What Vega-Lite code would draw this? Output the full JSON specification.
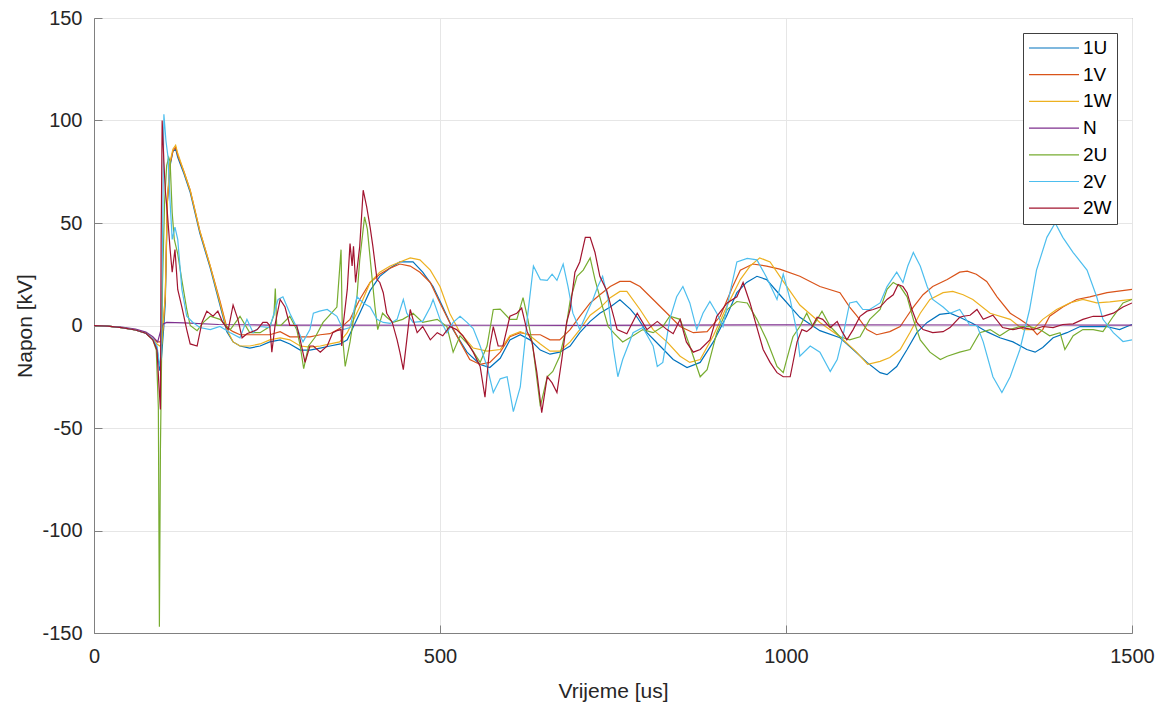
{
"$schema": "https://vega.github.io/schema/vega-lite/v6.json",
"width": 1038, "height": 615,
"autosize": {"type": "none"},
"padding": {"left": 94, "top": 18, "right": 34, "bottom": 74},
"background": "white",
"config": {"view": {"stroke": "#808080", "strokeWidth": 1}, "font": "Liberation Sans"},
"data": {"values": [
{"s":"1U","t":0,"v":0},{"s":"1U","t":20,"v":-0.3},{"s":"1U","t":40,"v":-1},{"s":"1U","t":60,"v":-2.2},{"s":"1U","t":75,"v":-3.8},{"s":"1U","t":85,"v":-6.5},{"s":"1U","t":91,"v":-11},{"s":"1U","t":95,"v":-22},{"s":"1U","t":97,"v":-18},{"s":"1U","t":101,"v":0},{"s":"1U","t":103,"v":11},{"s":"1U","t":106,"v":60},{"s":"1U","t":110,"v":78},{"s":"1U","t":114,"v":85},{"s":"1U","t":118,"v":86},{"s":"1U","t":121,"v":82},{"s":"1U","t":130,"v":74},{"s":"1U","t":139,"v":65},{"s":"1U","t":153,"v":45},{"s":"1U","t":168,"v":28},{"s":"1U","t":182,"v":10},{"s":"1U","t":192,"v":-3},{"s":"1U","t":201,"v":-8},{"s":"1U","t":211,"v":-10},{"s":"1U","t":225,"v":-11},{"s":"1U","t":240,"v":-10},{"s":"1U","t":254,"v":-8},{"s":"1U","t":269,"v":-7},{"s":"1U","t":283,"v":-9},{"s":"1U","t":298,"v":-12},{"s":"1U","t":312,"v":-12},{"s":"1U","t":327,"v":-11},{"s":"1U","t":341,"v":-10},{"s":"1U","t":356,"v":-9},{"s":"1U","t":366,"v":-7},{"s":"1U","t":384,"v":6},{"s":"1U","t":399,"v":17},{"s":"1U","t":413,"v":24},{"s":"1U","t":428,"v":28},{"s":"1U","t":442,"v":31},{"s":"1U","t":461,"v":31},{"s":"1U","t":475,"v":26},{"s":"1U","t":490,"v":19},{"s":"1U","t":504,"v":9},{"s":"1U","t":519,"v":-2},{"s":"1U","t":539,"v":-13},{"s":"1U","t":558,"v":-19},{"s":"1U","t":572,"v":-20.5},{"s":"1U","t":587,"v":-16},{"s":"1U","t":601,"v":-7},{"s":"1U","t":616,"v":-4.5},{"s":"1U","t":630,"v":-7},{"s":"1U","t":645,"v":-12},{"s":"1U","t":659,"v":-14},{"s":"1U","t":673,"v":-13},{"s":"1U","t":688,"v":-10},{"s":"1U","t":702,"v":-3.5},{"s":"1U","t":717,"v":2},{"s":"1U","t":731,"v":6},{"s":"1U","t":746,"v":9},{"s":"1U","t":760,"v":12.5},{"s":"1U","t":775,"v":8},{"s":"1U","t":785,"v":4},{"s":"1U","t":799,"v":-3.5},{"s":"1U","t":818,"v":-10},{"s":"1U","t":837,"v":-16.6},{"s":"1U","t":857,"v":-20.5},{"s":"1U","t":876,"v":-18},{"s":"1U","t":895,"v":-8},{"s":"1U","t":914,"v":4.5},{"s":"1U","t":929,"v":16},{"s":"1U","t":943,"v":21},{"s":"1U","t":958,"v":24},{"s":"1U","t":972,"v":22.4},{"s":"1U","t":991,"v":15},{"s":"1U","t":1020,"v":4},{"s":"1U","t":1049,"v":-2.5},{"s":"1U","t":1078,"v":-6},{"s":"1U","t":1097,"v":-11.7},{"s":"1U","t":1117,"v":-18},{"s":"1U","t":1136,"v":-23},{"s":"1U","t":1146,"v":-24},{"s":"1U","t":1160,"v":-20},{"s":"1U","t":1175,"v":-11.7},{"s":"1U","t":1189,"v":-3.5},{"s":"1U","t":1204,"v":1.5},{"s":"1U","t":1222,"v":5.4},{"s":"1U","t":1237,"v":6},{"s":"1U","t":1251,"v":4},{"s":"1U","t":1270,"v":1},{"s":"1U","t":1290,"v":-3},{"s":"1U","t":1309,"v":-6},{"s":"1U","t":1328,"v":-8},{"s":"1U","t":1348,"v":-11.7},{"s":"1U","t":1360,"v":-13},{"s":"1U","t":1371,"v":-10.7},{"s":"1U","t":1386,"v":-6},{"s":"1U","t":1406,"v":-3.5},{"s":"1U","t":1425,"v":-0.5},{"s":"1U","t":1444,"v":-0.5},{"s":"1U","t":1463,"v":-0.5},{"s":"1U","t":1482,"v":-2},{"s":"1U","t":1500,"v":0.5},
{"s":"1V","t":0,"v":0},{"s":"1V","t":20,"v":-0.3},{"s":"1V","t":40,"v":-1},{"s":"1V","t":60,"v":-2.2},{"s":"1V","t":75,"v":-3.8},{"s":"1V","t":85,"v":-6.5},{"s":"1V","t":91,"v":-8},{"s":"1V","t":95,"v":-8},{"s":"1V","t":98,"v":-7},{"s":"1V","t":101,"v":5},{"s":"1V","t":103,"v":14},{"s":"1V","t":106,"v":60},{"s":"1V","t":110,"v":79},{"s":"1V","t":114,"v":85},{"s":"1V","t":118,"v":87},{"s":"1V","t":121,"v":83},{"s":"1V","t":130,"v":75},{"s":"1V","t":139,"v":66},{"s":"1V","t":153,"v":46},{"s":"1V","t":168,"v":29},{"s":"1V","t":182,"v":12},{"s":"1V","t":192,"v":-1},{"s":"1V","t":201,"v":-3},{"s":"1V","t":211,"v":-4.5},{"s":"1V","t":225,"v":-4.5},{"s":"1V","t":254,"v":-4.5},{"s":"1V","t":269,"v":-3},{"s":"1V","t":283,"v":-5.5},{"s":"1V","t":312,"v":-5.5},{"s":"1V","t":327,"v":-4.5},{"s":"1V","t":341,"v":-4},{"s":"1V","t":355,"v":-1.5},{"s":"1V","t":370,"v":3},{"s":"1V","t":384,"v":12.7},{"s":"1V","t":399,"v":21},{"s":"1V","t":413,"v":25},{"s":"1V","t":428,"v":28},{"s":"1V","t":442,"v":30},{"s":"1V","t":457,"v":29},{"s":"1V","t":471,"v":26},{"s":"1V","t":486,"v":21},{"s":"1V","t":500,"v":11},{"s":"1V","t":514,"v":1.5},{"s":"1V","t":529,"v":-8},{"s":"1V","t":543,"v":-16.6},{"s":"1V","t":558,"v":-19},{"s":"1V","t":572,"v":-18},{"s":"1V","t":587,"v":-13},{"s":"1V","t":601,"v":-5.5},{"s":"1V","t":616,"v":-3.5},{"s":"1V","t":630,"v":-4.5},{"s":"1V","t":645,"v":-4.5},{"s":"1V","t":659,"v":-7},{"s":"1V","t":673,"v":-7},{"s":"1V","t":688,"v":-2},{"s":"1V","t":702,"v":4.5},{"s":"1V","t":717,"v":11},{"s":"1V","t":731,"v":15},{"s":"1V","t":746,"v":19},{"s":"1V","t":760,"v":21.5},{"s":"1V","t":775,"v":21.5},{"s":"1V","t":789,"v":19},{"s":"1V","t":808,"v":12.7},{"s":"1V","t":828,"v":6},{"s":"1V","t":847,"v":-0.5},{"s":"1V","t":866,"v":-3.5},{"s":"1V","t":886,"v":-3},{"s":"1V","t":905,"v":4.5},{"s":"1V","t":923,"v":19},{"s":"1V","t":934,"v":27},{"s":"1V","t":952,"v":30},{"s":"1V","t":972,"v":29},{"s":"1V","t":991,"v":27.5},{"s":"1V","t":1020,"v":24},{"s":"1V","t":1049,"v":19},{"s":"1V","t":1078,"v":16},{"s":"1V","t":1092,"v":9},{"s":"1V","t":1103,"v":4.5},{"s":"1V","t":1117,"v":-2},{"s":"1V","t":1131,"v":-4.5},{"s":"1V","t":1150,"v":-3},{"s":"1V","t":1165,"v":-0.5},{"s":"1V","t":1175,"v":4.5},{"s":"1V","t":1184,"v":9},{"s":"1V","t":1198,"v":15},{"s":"1V","t":1212,"v":19},{"s":"1V","t":1233,"v":22.4},{"s":"1V","t":1251,"v":26},{"s":"1V","t":1262,"v":26.5},{"s":"1V","t":1275,"v":25},{"s":"1V","t":1290,"v":21.5},{"s":"1V","t":1305,"v":14},{"s":"1V","t":1324,"v":6},{"s":"1V","t":1338,"v":3},{"s":"1V","t":1353,"v":-0.5},{"s":"1V","t":1363,"v":-4.5},{"s":"1V","t":1371,"v":-2},{"s":"1V","t":1381,"v":4.5},{"s":"1V","t":1400,"v":9},{"s":"1V","t":1420,"v":12.7},{"s":"1V","t":1439,"v":14},{"s":"1V","t":1464,"v":16},{"s":"1V","t":1500,"v":17.6},
{"s":"1W","t":0,"v":0},{"s":"1W","t":20,"v":-0.3},{"s":"1W","t":40,"v":-1},{"s":"1W","t":60,"v":-2.2},{"s":"1W","t":75,"v":-3.8},{"s":"1W","t":85,"v":-6.5},{"s":"1W","t":91,"v":-9},{"s":"1W","t":95,"v":-10},{"s":"1W","t":98,"v":-9},{"s":"1W","t":101,"v":5},{"s":"1W","t":103,"v":15},{"s":"1W","t":106,"v":62},{"s":"1W","t":110,"v":80},{"s":"1W","t":114,"v":86},{"s":"1W","t":118,"v":88},{"s":"1W","t":121,"v":84},{"s":"1W","t":130,"v":75},{"s":"1W","t":139,"v":66},{"s":"1W","t":153,"v":46},{"s":"1W","t":168,"v":29},{"s":"1W","t":182,"v":11},{"s":"1W","t":192,"v":-2},{"s":"1W","t":201,"v":-8},{"s":"1W","t":211,"v":-10},{"s":"1W","t":225,"v":-10},{"s":"1W","t":240,"v":-9},{"s":"1W","t":254,"v":-7},{"s":"1W","t":269,"v":-6},{"s":"1W","t":283,"v":-7},{"s":"1W","t":298,"v":-10},{"s":"1W","t":312,"v":-10.5},{"s":"1W","t":327,"v":-10},{"s":"1W","t":341,"v":-9},{"s":"1W","t":355,"v":-8},{"s":"1W","t":366,"v":-3.5},{"s":"1W","t":384,"v":9},{"s":"1W","t":399,"v":21},{"s":"1W","t":413,"v":26},{"s":"1W","t":428,"v":29},{"s":"1W","t":442,"v":31},{"s":"1W","t":457,"v":33},{"s":"1W","t":471,"v":32},{"s":"1W","t":486,"v":27},{"s":"1W","t":500,"v":19},{"s":"1W","t":514,"v":6},{"s":"1W","t":529,"v":-3.5},{"s":"1W","t":548,"v":-11},{"s":"1W","t":568,"v":-12.5},{"s":"1W","t":587,"v":-11.7},{"s":"1W","t":601,"v":-5},{"s":"1W","t":616,"v":-3},{"s":"1W","t":630,"v":-5},{"s":"1W","t":645,"v":-9},{"s":"1W","t":659,"v":-12.5},{"s":"1W","t":673,"v":-12.5},{"s":"1W","t":688,"v":-8},{"s":"1W","t":702,"v":-2},{"s":"1W","t":717,"v":5},{"s":"1W","t":731,"v":8.5},{"s":"1W","t":746,"v":13.6},{"s":"1W","t":760,"v":16.6},{"s":"1W","t":770,"v":16.6},{"s":"1W","t":789,"v":7.8},{"s":"1W","t":808,"v":-2},{"s":"1W","t":828,"v":-8},{"s":"1W","t":847,"v":-15},{"s":"1W","t":861,"v":-18},{"s":"1W","t":876,"v":-16.6},{"s":"1W","t":895,"v":-5},{"s":"1W","t":914,"v":9},{"s":"1W","t":934,"v":22.4},{"s":"1W","t":948,"v":29},{"s":"1W","t":962,"v":33},{"s":"1W","t":977,"v":31},{"s":"1W","t":996,"v":21.5},{"s":"1W","t":1020,"v":10},{"s":"1W","t":1049,"v":1.5},{"s":"1W","t":1078,"v":-5.5},{"s":"1W","t":1102,"v":-13},{"s":"1W","t":1118,"v":-19},{"s":"1W","t":1136,"v":-17.5},{"s":"1W","t":1150,"v":-15.6},{"s":"1W","t":1165,"v":-11.7},{"s":"1W","t":1179,"v":-3.5},{"s":"1W","t":1194,"v":6},{"s":"1W","t":1208,"v":12.7},{"s":"1W","t":1227,"v":16},{"s":"1W","t":1241,"v":16.6},{"s":"1W","t":1256,"v":15},{"s":"1W","t":1270,"v":12.7},{"s":"1W","t":1295,"v":6},{"s":"1W","t":1324,"v":3},{"s":"1W","t":1343,"v":-2},{"s":"1W","t":1357,"v":-2},{"s":"1W","t":1371,"v":3},{"s":"1W","t":1391,"v":7.8},{"s":"1W","t":1410,"v":11},{"s":"1W","t":1429,"v":12.7},{"s":"1W","t":1449,"v":11},{"s":"1W","t":1468,"v":11.5},{"s":"1W","t":1500,"v":12.7},
{"s":"N","t":0,"v":0},{"s":"N","t":40,"v":-0.8},{"s":"N","t":60,"v":-1.8},{"s":"N","t":75,"v":-3.2},{"s":"N","t":85,"v":-5.5},{"s":"N","t":92,"v":-8},{"s":"N","t":96,"v":-3},{"s":"N","t":100,"v":0.8},{"s":"N","t":105,"v":1.5},{"s":"N","t":130,"v":1.3},{"s":"N","t":180,"v":0.5},{"s":"N","t":250,"v":0.2},{"s":"N","t":700,"v":0.1},{"s":"N","t":1000,"v":0.3},{"s":"N","t":1500,"v":0.2},
{"s":"2U","t":0,"v":0},{"s":"2U","t":20,"v":-0.3},{"s":"2U","t":40,"v":-1},{"s":"2U","t":60,"v":-2.2},{"s":"2U","t":75,"v":-3.8},{"s":"2U","t":85,"v":-7},{"s":"2U","t":90,"v":-12},{"s":"2U","t":93,"v":-40},{"s":"2U","t":94.5,"v":-147},{"s":"2U","t":96,"v":-60},{"s":"2U","t":99,"v":20},{"s":"2U","t":102,"v":60},{"s":"2U","t":105,"v":78},{"s":"2U","t":108,"v":82},{"s":"2U","t":110,"v":80},{"s":"2U","t":113,"v":55},{"s":"2U","t":116,"v":42},{"s":"2U","t":121,"v":35},{"s":"2U","t":127,"v":22},{"s":"2U","t":134,"v":8},{"s":"2U","t":139,"v":0},{"s":"2U","t":149,"v":-2.5},{"s":"2U","t":158,"v":1.5},{"s":"2U","t":168,"v":4.5},{"s":"2U","t":182,"v":3},{"s":"2U","t":197,"v":-2},{"s":"2U","t":211,"v":4.5},{"s":"2U","t":225,"v":-3.5},{"s":"2U","t":240,"v":-3.5},{"s":"2U","t":254,"v":-0.5},{"s":"2U","t":260,"v":5},{"s":"2U","t":262,"v":18},{"s":"2U","t":264,"v":0},{"s":"2U","t":270,"v":0},{"s":"2U","t":283,"v":4.5},{"s":"2U","t":293,"v":-2},{"s":"2U","t":298,"v":-10},{"s":"2U","t":303,"v":-21},{"s":"2U","t":310,"v":-10},{"s":"2U","t":320,"v":-5.5},{"s":"2U","t":331,"v":1.5},{"s":"2U","t":351,"v":9},{"s":"2U","t":357,"v":37},{"s":"2U","t":359,"v":-5},{"s":"2U","t":363,"v":-20},{"s":"2U","t":370,"v":-8},{"s":"2U","t":380,"v":14},{"s":"2U","t":384,"v":32},{"s":"2U","t":391,"v":53},{"s":"2U","t":395,"v":47},{"s":"2U","t":401,"v":26},{"s":"2U","t":406,"v":9},{"s":"2U","t":410,"v":-2},{"s":"2U","t":417,"v":6},{"s":"2U","t":423,"v":4},{"s":"2U","t":432,"v":1.5},{"s":"2U","t":446,"v":3},{"s":"2U","t":461,"v":6},{"s":"2U","t":475,"v":1.5},{"s":"2U","t":496,"v":3},{"s":"2U","t":510,"v":-0.5},{"s":"2U","t":519,"v":-13},{"s":"2U","t":529,"v":-5},{"s":"2U","t":543,"v":-10},{"s":"2U","t":558,"v":-18},{"s":"2U","t":568,"v":-10},{"s":"2U","t":577,"v":7.8},{"s":"2U","t":587,"v":8},{"s":"2U","t":601,"v":3},{"s":"2U","t":611,"v":3},{"s":"2U","t":620,"v":13.6},{"s":"2U","t":627,"v":3},{"s":"2U","t":634,"v":-10},{"s":"2U","t":645,"v":-39.5},{"s":"2U","t":655,"v":-25},{"s":"2U","t":663,"v":-22.4},{"s":"2U","t":673,"v":-15},{"s":"2U","t":681,"v":-3.5},{"s":"2U","t":688,"v":12},{"s":"2U","t":698,"v":24},{"s":"2U","t":707,"v":27},{"s":"2U","t":717,"v":33},{"s":"2U","t":724,"v":22.4},{"s":"2U","t":735,"v":9},{"s":"2U","t":743,"v":-0.5},{"s":"2U","t":752,"v":-4},{"s":"2U","t":764,"v":-8},{"s":"2U","t":779,"v":-5},{"s":"2U","t":793,"v":-2},{"s":"2U","t":808,"v":-3.5},{"s":"2U","t":822,"v":-0.5},{"s":"2U","t":832,"v":4.5},{"s":"2U","t":847,"v":3},{"s":"2U","t":861,"v":-10},{"s":"2U","t":876,"v":-25},{"s":"2U","t":886,"v":-21.5},{"s":"2U","t":900,"v":-3.5},{"s":"2U","t":915,"v":7.8},{"s":"2U","t":929,"v":11.7},{"s":"2U","t":944,"v":11},{"s":"2U","t":958,"v":3},{"s":"2U","t":972,"v":-7},{"s":"2U","t":987,"v":-20},{"s":"2U","t":996,"v":-23},{"s":"2U","t":1001,"v":-16.6},{"s":"2U","t":1010,"v":-5.5},{"s":"2U","t":1020,"v":-0.5},{"s":"2U","t":1030,"v":6},{"s":"2U","t":1039,"v":-0.5},{"s":"2U","t":1052,"v":7},{"s":"2U","t":1064,"v":-0.5},{"s":"2U","t":1078,"v":-5.5},{"s":"2U","t":1092,"v":-7},{"s":"2U","t":1107,"v":-5.5},{"s":"2U","t":1121,"v":3},{"s":"2U","t":1136,"v":7.8},{"s":"2U","t":1146,"v":17.6},{"s":"2U","t":1155,"v":21},{"s":"2U","t":1165,"v":19},{"s":"2U","t":1175,"v":14},{"s":"2U","t":1184,"v":3},{"s":"2U","t":1194,"v":-7},{"s":"2U","t":1208,"v":-13},{"s":"2U","t":1223,"v":-16.6},{"s":"2U","t":1233,"v":-15},{"s":"2U","t":1251,"v":-13},{"s":"2U","t":1266,"v":-11.7},{"s":"2U","t":1280,"v":-3.5},{"s":"2U","t":1295,"v":-2},{"s":"2U","t":1309,"v":-5},{"s":"2U","t":1323,"v":-2},{"s":"2U","t":1338,"v":-0.5},{"s":"2U","t":1352,"v":-0.5},{"s":"2U","t":1367,"v":-2},{"s":"2U","t":1381,"v":-5},{"s":"2U","t":1396,"v":-3.5},{"s":"2U","t":1403,"v":-11.7},{"s":"2U","t":1415,"v":-5},{"s":"2U","t":1429,"v":-2},{"s":"2U","t":1444,"v":-2},{"s":"2U","t":1458,"v":-3},{"s":"2U","t":1473,"v":4.5},{"s":"2U","t":1487,"v":11},{"s":"2U","t":1500,"v":12.7},
{"s":"2V","t":0,"v":0},{"s":"2V","t":20,"v":-0.3},{"s":"2V","t":40,"v":-1},{"s":"2V","t":60,"v":-2.2},{"s":"2V","t":75,"v":-3.8},{"s":"2V","t":85,"v":-6.5},{"s":"2V","t":91,"v":-10},{"s":"2V","t":95,"v":-20},{"s":"2V","t":97,"v":-15},{"s":"2V","t":99,"v":40},{"s":"2V","t":101,"v":103},{"s":"2V","t":104,"v":90},{"s":"2V","t":107,"v":82},{"s":"2V","t":110,"v":60},{"s":"2V","t":113,"v":42},{"s":"2V","t":117,"v":48},{"s":"2V","t":121,"v":42},{"s":"2V","t":127,"v":17.6},{"s":"2V","t":134,"v":4.5},{"s":"2V","t":143,"v":1.5},{"s":"2V","t":153,"v":-1},{"s":"2V","t":168,"v":-2},{"s":"2V","t":182,"v":-0.5},{"s":"2V","t":197,"v":-3.5},{"s":"2V","t":211,"v":-6},{"s":"2V","t":221,"v":3},{"s":"2V","t":230,"v":-3.5},{"s":"2V","t":240,"v":-0.5},{"s":"2V","t":254,"v":-1},{"s":"2V","t":266,"v":12.7},{"s":"2V","t":273,"v":14},{"s":"2V","t":283,"v":6},{"s":"2V","t":293,"v":-1},{"s":"2V","t":302,"v":-8},{"s":"2V","t":312,"v":-2},{"s":"2V","t":317,"v":6},{"s":"2V","t":326,"v":7},{"s":"2V","t":337,"v":7.8},{"s":"2V","t":351,"v":4.5},{"s":"2V","t":360,"v":-2},{"s":"2V","t":370,"v":-1},{"s":"2V","t":380,"v":14},{"s":"2V","t":389,"v":11},{"s":"2V","t":399,"v":9},{"s":"2V","t":409,"v":3},{"s":"2V","t":418,"v":1.5},{"s":"2V","t":428,"v":1},{"s":"2V","t":438,"v":3},{"s":"2V","t":447,"v":12.7},{"s":"2V","t":452,"v":6},{"s":"2V","t":461,"v":1.5},{"s":"2V","t":475,"v":2},{"s":"2V","t":486,"v":9},{"s":"2V","t":490,"v":12.7},{"s":"2V","t":500,"v":3},{"s":"2V","t":510,"v":-3.5},{"s":"2V","t":519,"v":1.5},{"s":"2V","t":529,"v":4.5},{"s":"2V","t":539,"v":1.5},{"s":"2V","t":548,"v":-1.5},{"s":"2V","t":558,"v":-10},{"s":"2V","t":568,"v":-20},{"s":"2V","t":577,"v":-32.7},{"s":"2V","t":587,"v":-26},{"s":"2V","t":597,"v":-25},{"s":"2V","t":606,"v":-42},{"s":"2V","t":616,"v":-30},{"s":"2V","t":626,"v":3},{"s":"2V","t":635,"v":29},{"s":"2V","t":645,"v":22.4},{"s":"2V","t":655,"v":22},{"s":"2V","t":662,"v":25},{"s":"2V","t":669,"v":22},{"s":"2V","t":678,"v":30},{"s":"2V","t":685,"v":19},{"s":"2V","t":692,"v":6},{"s":"2V","t":702,"v":-2},{"s":"2V","t":712,"v":6},{"s":"2V","t":721,"v":12.7},{"s":"2V","t":728,"v":19},{"s":"2V","t":735,"v":24},{"s":"2V","t":743,"v":12.7},{"s":"2V","t":750,"v":-10},{"s":"2V","t":757,"v":-25},{"s":"2V","t":764,"v":-16.6},{"s":"2V","t":779,"v":-3.5},{"s":"2V","t":793,"v":-1},{"s":"2V","t":808,"v":-10},{"s":"2V","t":814,"v":-20},{"s":"2V","t":822,"v":-18},{"s":"2V","t":832,"v":3},{"s":"2V","t":842,"v":14},{"s":"2V","t":851,"v":19},{"s":"2V","t":861,"v":11},{"s":"2V","t":871,"v":-2},{"s":"2V","t":880,"v":6},{"s":"2V","t":890,"v":11.7},{"s":"2V","t":900,"v":6},{"s":"2V","t":909,"v":-0.5},{"s":"2V","t":919,"v":16},{"s":"2V","t":929,"v":31},{"s":"2V","t":944,"v":32.7},{"s":"2V","t":958,"v":32},{"s":"2V","t":972,"v":23.4},{"s":"2V","t":987,"v":12.7},{"s":"2V","t":996,"v":25},{"s":"2V","t":1006,"v":12.7},{"s":"2V","t":1016,"v":-3.5},{"s":"2V","t":1020,"v":-15},{"s":"2V","t":1035,"v":-10},{"s":"2V","t":1049,"v":-13},{"s":"2V","t":1064,"v":-22.4},{"s":"2V","t":1074,"v":-16.6},{"s":"2V","t":1082,"v":-5.5},{"s":"2V","t":1092,"v":11},{"s":"2V","t":1102,"v":11.7},{"s":"2V","t":1111,"v":7.8},{"s":"2V","t":1121,"v":7.8},{"s":"2V","t":1136,"v":11},{"s":"2V","t":1146,"v":19},{"s":"2V","t":1160,"v":26},{"s":"2V","t":1169,"v":21},{"s":"2V","t":1176,"v":29},{"s":"2V","t":1184,"v":35.6},{"s":"2V","t":1194,"v":29},{"s":"2V","t":1204,"v":19},{"s":"2V","t":1212,"v":12.7},{"s":"2V","t":1227,"v":9},{"s":"2V","t":1237,"v":6},{"s":"2V","t":1251,"v":7.8},{"s":"2V","t":1266,"v":0},{"s":"2V","t":1276,"v":0},{"s":"2V","t":1285,"v":-8},{"s":"2V","t":1299,"v":-25},{"s":"2V","t":1312,"v":-32.7},{"s":"2V","t":1324,"v":-25},{"s":"2V","t":1338,"v":-11.7},{"s":"2V","t":1352,"v":7.8},{"s":"2V","t":1362,"v":27},{"s":"2V","t":1377,"v":43},{"s":"2V","t":1389,"v":50},{"s":"2V","t":1400,"v":43},{"s":"2V","t":1415,"v":35.6},{"s":"2V","t":1435,"v":27},{"s":"2V","t":1449,"v":14},{"s":"2V","t":1458,"v":3},{"s":"2V","t":1473,"v":-3.5},{"s":"2V","t":1487,"v":-7.8},{"s":"2V","t":1500,"v":-7},
{"s":"2W","t":0,"v":0},{"s":"2W","t":20,"v":-0.3},{"s":"2W","t":40,"v":-1},{"s":"2W","t":60,"v":-2.2},{"s":"2W","t":75,"v":-3.8},{"s":"2W","t":85,"v":-7},{"s":"2W","t":91,"v":-12},{"s":"2W","t":94,"v":-30},{"s":"2W","t":96,"v":-41},{"s":"2W","t":97,"v":40},{"s":"2W","t":98.5,"v":100},{"s":"2W","t":101,"v":80},{"s":"2W","t":103,"v":66},{"s":"2W","t":106,"v":55},{"s":"2W","t":110,"v":37},{"s":"2W","t":113,"v":26},{"s":"2W","t":117,"v":37},{"s":"2W","t":121,"v":17.6},{"s":"2W","t":127,"v":9},{"s":"2W","t":134,"v":-2},{"s":"2W","t":139,"v":-9},{"s":"2W","t":149,"v":-10},{"s":"2W","t":156,"v":1.5},{"s":"2W","t":163,"v":7},{"s":"2W","t":172,"v":4.5},{"s":"2W","t":179,"v":7},{"s":"2W","t":186,"v":1.5},{"s":"2W","t":194,"v":-2},{"s":"2W","t":201,"v":10},{"s":"2W","t":208,"v":3},{"s":"2W","t":214,"v":-6},{"s":"2W","t":221,"v":-4},{"s":"2W","t":236,"v":-2},{"s":"2W","t":244,"v":1.5},{"s":"2W","t":250,"v":1.5},{"s":"2W","t":254,"v":0},{"s":"2W","t":257,"v":-13},{"s":"2W","t":262,"v":1},{"s":"2W","t":269,"v":12.7},{"s":"2W","t":276,"v":9},{"s":"2W","t":283,"v":0},{"s":"2W","t":293,"v":0},{"s":"2W","t":298,"v":-7},{"s":"2W","t":305,"v":-18},{"s":"2W","t":312,"v":-10},{"s":"2W","t":317,"v":-10},{"s":"2W","t":327,"v":-13},{"s":"2W","t":337,"v":-10},{"s":"2W","t":345,"v":-3.5},{"s":"2W","t":351,"v":-2.5},{"s":"2W","t":357,"v":-2},{"s":"2W","t":358,"v":-10},{"s":"2W","t":360,"v":0},{"s":"2W","t":366,"v":17.6},{"s":"2W","t":370,"v":40},{"s":"2W","t":373,"v":29},{"s":"2W","t":375,"v":38.6},{"s":"2W","t":378,"v":21},{"s":"2W","t":384,"v":38.6},{"s":"2W","t":389,"v":66},{"s":"2W","t":394,"v":58},{"s":"2W","t":399,"v":48},{"s":"2W","t":403,"v":38.6},{"s":"2W","t":409,"v":22.4},{"s":"2W","t":413,"v":21},{"s":"2W","t":418,"v":16},{"s":"2W","t":423,"v":6},{"s":"2W","t":431,"v":1.5},{"s":"2W","t":438,"v":-7},{"s":"2W","t":442,"v":-13},{"s":"2W","t":447,"v":-21.5},{"s":"2W","t":452,"v":-7},{"s":"2W","t":457,"v":7.8},{"s":"2W","t":461,"v":3},{"s":"2W","t":467,"v":-3.5},{"s":"2W","t":475,"v":-0.5},{"s":"2W","t":486,"v":-7},{"s":"2W","t":496,"v":-3.5},{"s":"2W","t":504,"v":-5},{"s":"2W","t":514,"v":-0.5},{"s":"2W","t":524,"v":-2},{"s":"2W","t":533,"v":-5},{"s":"2W","t":548,"v":-13},{"s":"2W","t":558,"v":-20},{"s":"2W","t":565,"v":-35},{"s":"2W","t":572,"v":-10},{"s":"2W","t":577,"v":-0.5},{"s":"2W","t":584,"v":-10},{"s":"2W","t":591,"v":-10},{"s":"2W","t":601,"v":4.5},{"s":"2W","t":611,"v":6},{"s":"2W","t":618,"v":8.5},{"s":"2W","t":626,"v":-3},{"s":"2W","t":633,"v":-8},{"s":"2W","t":640,"v":-23},{"s":"2W","t":647,"v":-42.5},{"s":"2W","t":655,"v":-25},{"s":"2W","t":662,"v":-28},{"s":"2W","t":669,"v":-32.7},{"s":"2W","t":676,"v":-16.6},{"s":"2W","t":683,"v":1.5},{"s":"2W","t":688,"v":7.8},{"s":"2W","t":695,"v":26},{"s":"2W","t":702,"v":31},{"s":"2W","t":710,"v":43},{"s":"2W","t":717,"v":43},{"s":"2W","t":724,"v":35.6},{"s":"2W","t":731,"v":24},{"s":"2W","t":741,"v":17},{"s":"2W","t":756,"v":-2},{"s":"2W","t":770,"v":-4},{"s":"2W","t":785,"v":6},{"s":"2W","t":799,"v":-2},{"s":"2W","t":814,"v":2},{"s":"2W","t":828,"v":-2},{"s":"2W","t":837,"v":-4},{"s":"2W","t":847,"v":3},{"s":"2W","t":856,"v":-8},{"s":"2W","t":866,"v":-13},{"s":"2W","t":876,"v":-11.7},{"s":"2W","t":890,"v":-7},{"s":"2W","t":900,"v":4.5},{"s":"2W","t":915,"v":11},{"s":"2W","t":929,"v":14},{"s":"2W","t":938,"v":21},{"s":"2W","t":948,"v":11},{"s":"2W","t":958,"v":-1},{"s":"2W","t":967,"v":-11.7},{"s":"2W","t":977,"v":-18},{"s":"2W","t":987,"v":-23},{"s":"2W","t":996,"v":-25},{"s":"2W","t":1006,"v":-25},{"s":"2W","t":1009,"v":-20},{"s":"2W","t":1016,"v":-8},{"s":"2W","t":1023,"v":-2},{"s":"2W","t":1030,"v":-3},{"s":"2W","t":1037,"v":-1},{"s":"2W","t":1045,"v":4},{"s":"2W","t":1053,"v":3},{"s":"2W","t":1064,"v":-1},{"s":"2W","t":1074,"v":2},{"s":"2W","t":1081,"v":-3},{"s":"2W","t":1088,"v":-7},{"s":"2W","t":1097,"v":-2},{"s":"2W","t":1107,"v":4.5},{"s":"2W","t":1117,"v":7},{"s":"2W","t":1126,"v":7.8},{"s":"2W","t":1136,"v":9},{"s":"2W","t":1146,"v":12.7},{"s":"2W","t":1155,"v":15},{"s":"2W","t":1162,"v":20},{"s":"2W","t":1169,"v":19},{"s":"2W","t":1175,"v":16},{"s":"2W","t":1182,"v":7.8},{"s":"2W","t":1189,"v":1.5},{"s":"2W","t":1198,"v":-2},{"s":"2W","t":1212,"v":-3.5},{"s":"2W","t":1227,"v":-3},{"s":"2W","t":1237,"v":-1},{"s":"2W","t":1251,"v":4},{"s":"2W","t":1256,"v":4.5},{"s":"2W","t":1266,"v":5},{"s":"2W","t":1276,"v":7.8},{"s":"2W","t":1285,"v":3},{"s":"2W","t":1299,"v":5},{"s":"2W","t":1313,"v":-1},{"s":"2W","t":1328,"v":-2},{"s":"2W","t":1342,"v":-1},{"s":"2W","t":1357,"v":-2},{"s":"2W","t":1371,"v":-0.5},{"s":"2W","t":1386,"v":-1},{"s":"2W","t":1400,"v":0.5},{"s":"2W","t":1415,"v":0.8},{"s":"2W","t":1429,"v":3},{"s":"2W","t":1444,"v":4.5},{"s":"2W","t":1458,"v":4.5},{"s":"2W","t":1473,"v":6},{"s":"2W","t":1487,"v":9},{"s":"2W","t":1500,"v":11}
]},
"mark": {"type": "line", "strokeWidth": 1.2, "clip": true},
"encoding": {
  "x": {"field": "t", "type": "quantitative",
    "scale": {"domain": [0, 1500], "nice": false, "zero": false},
    "axis": {"values": [0, 500, 1000, 1500], "labelExpr": "'' + datum.value", "title": "Vrijeme [us]", "titleFontSize": 21, "titleFontWeight": "normal", "titleColor": "#262626", "titlePadding": 14,
      "labelFontSize": 20, "labelColor": "#262626", "labelPadding": 21, "labelFlush": false,
      "grid": true, "gridColor": "#e6e6e6", "domainColor": "#808080", "tickColor": "#808080", "tickSize": -8}},
  "y": {"field": "v", "type": "quantitative",
    "scale": {"domain": [-150, 150], "nice": false, "zero": false},
    "axis": {"values": [-150, -100, -50, 0, 50, 100, 150], "labelExpr": "'' + datum.value", "title": "Napon [kV]", "titleFontSize": 21, "titleFontWeight": "normal", "titleColor": "#262626", "titlePadding": 6,
      "labelFontSize": 20, "labelColor": "#262626", "labelPadding": 20, "labelFlush": false,
      "grid": true, "gridColor": "#e6e6e6", "domainColor": "#808080", "tickColor": "#808080", "tickSize": -8}},
  "color": {"field": "s", "type": "nominal",
    "scale": {"domain": ["1U", "1V", "1W", "N", "2U", "2V", "2W"], "range": ["#0072BD", "#D95319", "#EDB120", "#7E2F8E", "#77AC30", "#4DBEEE", "#A2142F"]},
    "legend": {"orient": "none", "legendX": 929, "legendY": 15, "title": null, "symbolType": "stroke", "symbolSize": 2500, "symbolStrokeWidth": 1.2,
      "clipHeight": 20, "rowPadding": 6.7, "labelFontSize": 19, "labelColor": "#000000", "labelOffset": 3,
      "labelExpr": "datum.label + '\u00a0\u00a0\u00a0'",
      "strokeColor": "#404040", "fillColor": "#ffffff", "padding": 5, "cornerRadius": 0}}
}
}
